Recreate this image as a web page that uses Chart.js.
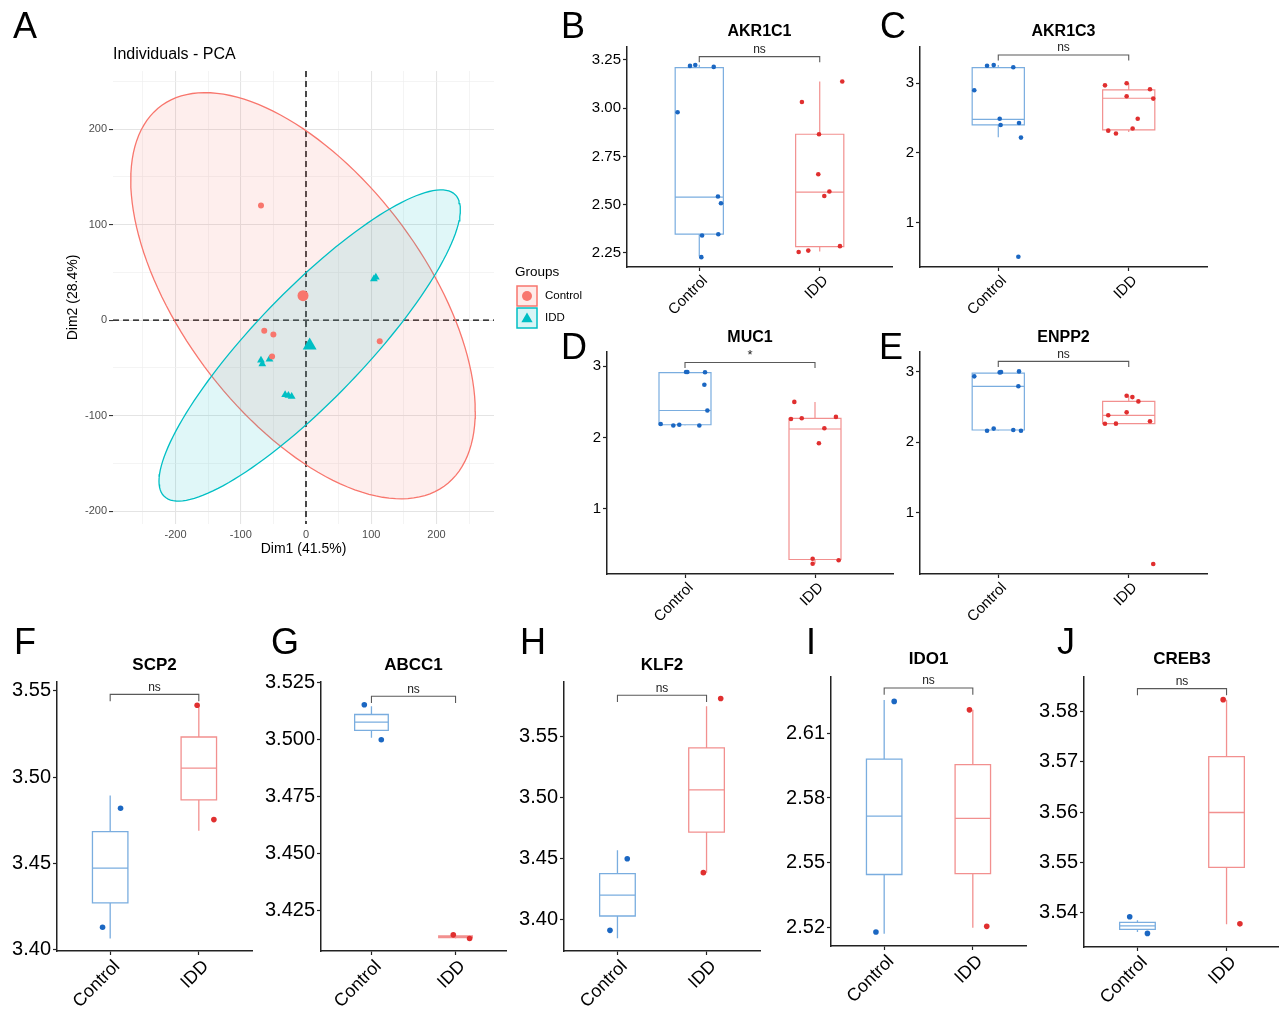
<!DOCTYPE html>
<html>
<head>
<meta charset="utf-8">
<script src="https://cdn.jsdelivr.net/npm/chart.js@4.4.1/dist/chart.umd.min.js"></script>
<style>
  html, body { margin: 0; background: #fff; }
  #fig { position: relative; width: 1279px; height: 1009px; overflow: hidden; font-family: "Liberation Sans", Arial, sans-serif; }
  #fig canvas { position: absolute; }
  .tag { position: absolute; font-size: 36px; line-height: 1; color: #000; }
</style>
</head>
<body>
<div id="fig"></div>
<script>
const groups = ['Control', 'IDD'];

// ---- panel A: PCA individuals ----
const pcaControlX = [-69, -64, -50, -52, 113];
const pcaControlY = [120, -11, -15, -38, -22];
const pcaIddX = [107, 104, -69, -67, -56, -32, -27, -22];
const pcaIddY = [45, 43, -42, -46, -41, -78, -79, -80];
const pcaCentroidX = [-4.6, 5.6];
const pcaCentroidY = [25.6, -26.5];
// conjugate semi-axes of the concentration ellipses, data units
const ellipseControlAxes = [[264, -121], [0, 175]];
const ellipseIddAxes = [[223, 158], [-60, 40]];
const pcaTicksX = [-250, -200, -150, -100, -50, 0, 50, 100, 150, 200, 250];
const pcaTicksY = [-200, -150, -100, -50, 0, 50, 100, 150, 200, 250];

// ---- boxplot panels: values, jitter offsets, [lower, q1, median, q3, upper] ----
const akr1c1Control = [3.219, 3.224, 3.214, 2.979, 2.542, 2.507, 2.340, 2.347, 2.228];
const akr1c1ControlJit = [-0.077, -0.033, 0.12, -0.18, 0.155, 0.18, 0.023, 0.158, 0.017];
const akr1c1Idd = [3.032, 3.138, 2.865, 2.658, 2.568, 2.545, 2.255, 2.262, 2.285];
const akr1c1IddJit = [-0.148, 0.187, -0.006, -0.012, 0.08, 0.038, -0.175, -0.095, 0.168];
const akr1c1Box = [[2.231, 2.347, 2.539, 3.21, 3.225], [2.257, 2.283, 2.565, 2.865, 3.138]];
const akr1c1Ticks = [2.25, 2.5, 2.75, 3.0, 3.25];

const akr1c3Control = [3.25, 3.26, 3.23, 2.90, 2.49, 2.40, 2.43, 2.22, 0.51];
const akr1c3ControlJit = [-0.086, -0.035, 0.115, -0.184, 0.011, 0.018, 0.159, 0.174, 0.154];
const akr1c3Idd = [2.97, 3.0, 2.914, 2.813, 2.78, 2.49, 2.35, 2.32, 2.28];
const akr1c3IddJit = [-0.182, -0.016, 0.163, -0.016, 0.188, 0.069, 0.03, -0.157, -0.098];
const akr1c3Box = [[2.225, 2.402, 2.483, 3.224, 3.26], [2.30, 2.33, 2.785, 2.904, 3.0]];
const akr1c3Ticks = [1, 2, 3];

const muc1Control = [2.92, 2.92, 2.915, 2.74, 2.38, 2.19, 2.17, 2.18, 2.17];
const muc1ControlJit = [0.008, 0.018, 0.154, 0.149, 0.172, -0.187, -0.09, -0.044, 0.11];
const muc1Idd = [2.50, 2.26, 2.27, 2.29, 2.13, 1.92, 0.30, 0.23, 0.28];
const muc1IddJit = [-0.159, -0.185, -0.102, 0.161, 0.072, 0.03, -0.018, -0.018, 0.182];
const muc1Box = [[2.17, 2.18, 2.38, 2.912, 2.92], [0.23, 0.29, 2.12, 2.27, 2.50]];
const muc1Ticks = [1, 2, 3];

const enpp2Control = [2.93, 2.986, 2.99, 3.0, 2.79, 2.16, 2.19, 2.17, 2.16];
const enpp2ControlJit = [-0.184, 0.011, 0.021, 0.159, 0.154, -0.086, -0.035, 0.115, 0.174];
const enpp2Idd = [2.655, 2.636, 2.575, 2.42, 2.38, 2.258, 2.26, 2.295, 0.272];
const enpp2IddJit = [-0.016, 0.028, 0.074, -0.016, -0.157, -0.182, -0.098, 0.163, 0.188];
const enpp2Box = [[2.16, 2.17, 2.787, 2.977, 3.0], [2.258, 2.26, 2.376, 2.575, 2.655]];
const enpp2Ticks = [1, 2, 3];

const scp2Control = [3.482, 3.413];
const scp2ControlJit = [0.117, -0.086];
const scp2Idd = [3.5417, 3.4754];
const scp2IddJit = [-0.019, 0.17];
const scp2Box = [[3.4064, 3.4271, 3.4473, 3.4684, 3.4894], [3.4690, 3.4868, 3.5052, 3.5233, 3.5413]];
const scp2Ticks = [3.40, 3.45, 3.50, 3.55];

const abcc1Control = [3.5154, 3.5000];
const abcc1ControlJit = [-0.085, 0.117];
const abcc1Idd = [3.4141, 3.4125];
const abcc1IddJit = [-0.027, 0.167];
const abcc1Box = [[3.5009, 3.5041, 3.5077, 3.5111, 3.5147], [3.4125, 3.4129, 3.4133, 3.4137, 3.4141]];
const abcc1Ticks = [3.425, 3.450, 3.475, 3.500, 3.525];

const klf2Control = [3.4497, 3.3907];
const klf2ControlJit = [0.11, -0.084];
const klf2Idd = [3.5816, 3.4382];
const klf2IddJit = [0.159, -0.036];
const klf2Box = [[3.3841, 3.4025, 3.4197, 3.4374, 3.4566], [3.4382, 3.4716, 3.5063, 3.541, 3.5753]];
const klf2Ticks = [3.40, 3.45, 3.50, 3.55];

const ido1Control = [2.6247, 2.518];
const ido1ControlJit = [0.113, -0.093];
const ido1Idd = [2.6208, 2.5206];
const ido1IddJit = [-0.038, 0.157];
const ido1Box = [[2.5172, 2.5446, 2.5716, 2.598, 2.6254], [2.52, 2.545, 2.5706, 2.5954, 2.6208]];
const ido1Ticks = [2.52, 2.55, 2.58, 2.61];

const creb3Control = [3.5392, 3.5359];
const creb3ControlJit = [-0.087, 0.112];
const creb3Idd = [3.5823, 3.5378];
const creb3IddJit = [-0.038, 0.15];
const creb3Box = [[3.5362, 3.5367, 3.5374, 3.5381, 3.5385], [3.5377, 3.549, 3.5599, 3.571, 3.5823]];
const creb3Ticks = [3.54, 3.55, 3.56, 3.57, 3.58];

// significance label and bracket height
const sigLabels = ['ns', 'ns', '*', 'ns', 'ns', 'ns', 'ns', 'ns', 'ns'];
const sigHeights = [3.267, 3.406, 3.052, 3.142, 3.548, 3.5191, 3.5843, 2.6309, 3.5845];

const RED = '#F8766D', TEAL = '#00BFC4';
const BOX_COL = ['#7aaddf', '#f2908f'];
const PT_COL = ['#1b67c2', '#e02f2f'];
const FONT = '"Liberation Sans", Arial, sans-serif';
Chart.defaults.font.family = FONT;
Chart.defaults.color = '#000';

const fig = document.getElementById('fig');

function addCanvas(left, top, w, h) {
  const c = document.createElement('canvas');
  c.width = w; c.height = h;
  c.style.left = left + 'px'; c.style.top = top + 'px';
  c.style.width = w + 'px'; c.style.height = h + 'px';
  fig.appendChild(c);
  return c;
}

function addTag(letter, left, top) {
  const d = document.createElement('div');
  d.className = 'tag';
  d.textContent = letter;
  d.style.left = left + 'px'; d.style.top = top + 'px';
  fig.appendChild(d);
}

// ---------------- panel A ----------------
function ellipsePoints(cx, cy, axes) {
  const pts = [];
  for (let k = 0; k <= 144; k++) {
    const t = k / 144 * 2 * Math.PI;
    pts.push({
      x: cx + axes[0][0] * Math.cos(t) + axes[1][0] * Math.sin(t),
      y: cy + axes[0][1] * Math.cos(t) + axes[1][1] * Math.sin(t)
    });
  }
  return pts;
}

const zeroLines = {
  id: 'zeroLines',
  beforeDatasetsDraw(chart) {
    const { ctx, chartArea: a, scales: { x, y } } = chart;
    const x0 = x.getPixelForValue(0), y0 = y.getPixelForValue(0);
    ctx.save();
    ctx.setLineDash([6, 4]);
    ctx.strokeStyle = '#000';
    ctx.lineWidth = 1.4;
    ctx.beginPath();
    ctx.moveTo(x0, a.top); ctx.lineTo(x0, a.bottom);
    ctx.moveTo(a.left, y0); ctx.lineTo(a.right, y0);
    ctx.stroke();
    ctx.restore();
  }
};

const groupLegend = {
  id: 'groupLegend',
  afterDraw(chart) {
    const ctx = chart.ctx;
    const fills = ['rgba(248,118,109,0.15)', 'rgba(0,191,196,0.15)'];
    const lines = [RED, TEAL];
    const styles = ['circle', 'triangle'];
    ctx.save();
    ctx.textBaseline = 'middle';
    ctx.fillStyle = '#000';
    ctx.font = '13.5px ' + FONT;
    ctx.fillText('Groups', 515, 272);
    groups.forEach((g, i) => {
      const cy = 296 + i * 22;
      ctx.fillStyle = fills[i];
      ctx.fillRect(517, cy - 10, 20, 20);
      ctx.strokeStyle = lines[i];
      ctx.lineWidth = 1.5;
      ctx.strokeRect(517, cy - 10, 20, 20);
      ctx.fillStyle = lines[i];
      ctx.strokeStyle = lines[i];
      Chart.helpers.drawPoint(ctx, { pointStyle: styles[i], radius: i ? 6.5 : 5, borderWidth: 0, rotation: 0 }, 527, cy + (i ? 1 : 0));
      ctx.fillStyle = '#000';
      ctx.font = '11.5px ' + FONT;
      ctx.fillText(g, 545, cy);
    });
    ctx.restore();
  }
};

const pcaCanvas = addCanvas(0, 0, 600, 575);
new Chart(pcaCanvas, {
  type: 'scatter',
  data: {
    datasets: [
      {
        label: 'Control',
        data: pcaControlX.map((x, i) => ({ x, y: pcaControlY[i] })),
        pointStyle: 'circle', pointRadius: 3, backgroundColor: RED, borderWidth: 0, order: 0
      },
      {
        label: 'IDD',
        data: pcaIddX.map((x, i) => ({ x, y: pcaIddY[i] })),
        pointStyle: 'triangle', pointRadius: 4.5, backgroundColor: TEAL, borderColor: TEAL, borderWidth: 0, order: 0
      },
      {
        label: 'Control mean',
        data: [{ x: pcaCentroidX[0], y: pcaCentroidY[0] }],
        pointStyle: 'circle', pointRadius: 5.5, backgroundColor: RED, borderWidth: 0, order: 0
      },
      {
        label: 'IDD mean',
        data: [{ x: pcaCentroidX[1], y: pcaCentroidY[1] }],
        pointStyle: 'triangle', pointRadius: 8, backgroundColor: TEAL, borderWidth: 0, order: 0
      },
      {
        type: 'line', label: 'Control ellipse',
        data: ellipsePoints(pcaCentroidX[0], pcaCentroidY[0], ellipseControlAxes),
        borderColor: RED, borderWidth: 1.3, backgroundColor: 'rgba(248,118,109,0.12)',
        fill: 'shape', pointRadius: 0, tension: 0, order: 2
      },
      {
        type: 'line', label: 'IDD ellipse',
        data: ellipsePoints(pcaCentroidX[1], pcaCentroidY[1], ellipseIddAxes),
        borderColor: TEAL, borderWidth: 1.3, backgroundColor: 'rgba(0,191,196,0.12)',
        fill: 'shape', pointRadius: 0, tension: 0, order: 1
      }
    ]
  },
  options: {
    responsive: false,
    animation: false,
    layout: { padding: { left: 0, top: 0, right: 106, bottom: 0 } },
    plugins: {
      legend: { display: false },
      tooltip: { enabled: false },
      title: {
        display: true, text: 'Individuals - PCA', align: 'start', fullSize: false,
        font: { size: 16, weight: 'normal' }, color: '#000',
        padding: { top: 45.4, bottom: 6.4 }
      }
    },
    scales: {
      x: {
        type: 'linear', min: -295.8, max: 288.1,
        afterBuildTicks: a => { a.ticks = pcaTicksX.map(v => ({ value: v })); },
        afterFit: s => { s.height = 51; },
        ticks: { callback: v => (v % 100 === 0 ? String(v) : ''), font: { size: 11 }, color: '#4d4d4d', padding: 1, autoSkip: false, maxRotation: 0 },
        grid: {
          color: c => (c.tick && c.tick.value % 100 === 0 ? '#e4e4e4' : '#efefef'),
          lineWidth: c => (c.tick && c.tick.value % 100 === 0 ? 1.1 : 0.7),
          tickColor: 'rgba(0,0,0,0)', tickLength: 3
        },
        border: { display: false },
        title: { display: true, text: 'Dim1 (41.5%)', font: { size: 14 }, color: '#000', padding: { top: 0, bottom: 17.6 } }
      },
      y: {
        type: 'linear', min: -213.5, max: 261,
        afterBuildTicks: a => { a.ticks = pcaTicksY.map(v => ({ value: v })); },
        afterFit: s => { s.width = 113; },
        ticks: { callback: v => (v % 100 === 0 ? String(v) : ''), font: { size: 11 }, color: '#4d4d4d', padding: 2, autoSkip: false },
        grid: {
          color: c => (c.tick && c.tick.value % 100 === 0 ? '#e4e4e4' : '#efefef'),
          lineWidth: c => (c.tick && c.tick.value % 100 === 0 ? 1.1 : 0.7),
          tickColor: c => (c.tick && c.tick.value % 100 === 0 ? '#333' : 'rgba(0,0,0,0)'), tickLength: 4
        },
        border: { display: false },
        title: { display: true, text: 'Dim2 (28.4%)', font: { size: 14 }, color: '#000', padding: { top: 64.6, bottom: 0 } }
      }
    }
  },
  plugins: [zeroLines, groupLegend]
});
addTag('A', 13, 8);

// ---------------- boxplot panels ----------------
const panels = [
  { tag: 'B', title: 'AKR1C1', c: akr1c1Control, cj: akr1c1ControlJit, d: akr1c1Idd, dj: akr1c1IddJit, box: akr1c1Box, ticks: akr1c1Ticks, dec: 2, range: [2.177, 3.317], rect: [627, 47, 892, 267], titleY: 32, tagPos: [561, 8] },
  { tag: 'C', title: 'AKR1C3', c: akr1c3Control, cj: akr1c3ControlJit, d: akr1c3Idd, dj: akr1c3IddJit, box: akr1c3Box, ticks: akr1c3Ticks, dec: 0, range: [0.364, 3.52], rect: [920, 47, 1207, 267], titleY: 32, tagPos: [880, 8] },
  { tag: 'D', title: 'MUC1', c: muc1Control, cj: muc1ControlJit, d: muc1Idd, dj: muc1IddJit, box: muc1Box, ticks: muc1Ticks, dec: 0, range: [0.087, 3.2], rect: [607, 352, 893, 574], titleY: 338, tagPos: [561, 329] },
  { tag: 'E', title: 'ENPP2', c: enpp2Control, cj: enpp2ControlJit, d: enpp2Idd, dj: enpp2IddJit, box: enpp2Box, ticks: enpp2Ticks, dec: 0, range: [0.13, 3.275], rect: [920, 352, 1207, 574], titleY: 338, tagPos: [879, 329] },
  { tag: 'F', title: 'SCP2', c: scp2Control, cj: scp2ControlJit, d: scp2Idd, dj: scp2IddJit, box: scp2Box, ticks: scp2Ticks, dec: 2, range: [3.3992, 3.5552], rect: [57, 682, 252, 951], titleY: 665, tagPos: [14, 624], big: true },
  { tag: 'G', title: 'ABCC1', c: abcc1Control, cj: abcc1ControlJit, d: abcc1Idd, dj: abcc1IddJit, box: abcc1Box, ticks: abcc1Ticks, dec: 3, range: [3.407, 3.5254], rect: [321, 682, 506, 951], titleY: 665, tagPos: [271, 624], big: true },
  { tag: 'H', title: 'KLF2', c: klf2Control, cj: klf2ControlJit, d: klf2Idd, dj: klf2IddJit, box: klf2Box, ticks: klf2Ticks, dec: 2, range: [3.3737, 3.5952], rect: [564, 682, 760, 951], titleY: 665, tagPos: [520, 624], big: true },
  { tag: 'I', title: 'IDO1', c: ido1Control, cj: ido1ControlJit, d: ido1Idd, dj: ido1IddJit, box: ido1Box, ticks: ido1Ticks, dec: 2, range: [2.5115, 2.636], rect: [831, 677, 1026, 946], titleY: 659, tagPos: [806, 624], big: true },
  { tag: 'J', title: 'CREB3', c: creb3Control, cj: creb3ControlJit, d: creb3Idd, dj: creb3IddJit, box: creb3Box, ticks: creb3Ticks, dec: 2, range: [3.5332, 3.5868], rect: [1084, 677, 1280, 947], titleY: 659, tagPos: [1057, 624], big: true }
];

function boxPlugin(p, i) {
  return {
    id: 'boxes',
    beforeDatasetsDraw(chart) {
      const { ctx, chartArea: a, scales: { x, y } } = chart;
      ctx.save();
      ctx.lineWidth = p.big ? 1.3 : 1.2;
      p.box.forEach((s, g) => {
        const xc = x.getPixelForValue(g + 1);
        const xl = x.getPixelForValue(g + 1 - 0.2), xr = x.getPixelForValue(g + 1 + 0.2);
        const [lo, q1, md, q3, hi] = s.map(v => y.getPixelForValue(v));
        ctx.strokeStyle = BOX_COL[g];
        ctx.beginPath();
        ctx.moveTo(xc, lo); ctx.lineTo(xc, q1);
        ctx.moveTo(xc, q3); ctx.lineTo(xc, hi);
        ctx.rect(xl, q3, xr - xl, q1 - q3);
        ctx.moveTo(xl, md); ctx.lineTo(xr, md);
        ctx.stroke();
      });
      // comparison bracket
      const by = y.getPixelForValue(sigHeights[i]);
      const tip = (a.bottom - a.top) * 0.025;
      const x1 = x.getPixelForValue(1), x2 = x.getPixelForValue(2);
      ctx.strokeStyle = '#595959';
      ctx.lineWidth = 1.1;
      ctx.beginPath();
      ctx.moveTo(x1, by + tip); ctx.lineTo(x1, by); ctx.lineTo(x2, by); ctx.lineTo(x2, by + tip);
      ctx.stroke();
      ctx.fillStyle = '#222';
      ctx.font = (sigLabels[i] === '*' ? '13px ' : '12px ') + FONT;
      ctx.textAlign = 'center';
      ctx.textBaseline = 'bottom';
      ctx.fillText(sigLabels[i], x.getPixelForValue(1.5), by - 1);
      ctx.restore();
    }
  };
}

panels.forEach((p, i) => {
  const [L, T, R, B] = p.rect;
  const yW = p.big ? 56 : 60;
  const xH = p.big ? 60 : 62;
  const head = 45, padR = 6;
  const titleSize = p.big ? 17 : 16;
  const lh = titleSize * 1.2;
  const pt = p.titleY - (T - head) - lh / 2;
  const pb = head - pt - lh;
  const cv = addCanvas(L - yW, T - head, R + padR - (L - yW), B + xH - (T - head));
  const axisStyle = { display: true, color: '#222', width: 1.5 };
  const gridStyle = { display: true, drawOnChartArea: false, tickLength: 4, tickColor: '#222', tickWidth: 1.2 };
  new Chart(cv, {
    type: 'scatter',
    data: {
      datasets: [
        {
          label: groups[0],
          data: p.c.map((v, k) => ({ x: 1 + p.cj[k], y: v })),
          backgroundColor: PT_COL[0], borderWidth: 0, pointRadius: p.big ? 2.8 : 2.3
        },
        {
          label: groups[1],
          data: p.d.map((v, k) => ({ x: 2 + p.dj[k], y: v })),
          backgroundColor: PT_COL[1], borderWidth: 0, pointRadius: p.big ? 2.8 : 2.3
        }
      ]
    },
    options: {
      responsive: false,
      animation: false,
      layout: { padding: { left: 0, top: 0, right: padR, bottom: 0 } },
      plugins: {
        legend: { display: false },
        tooltip: { enabled: false },
        title: {
          display: true, text: p.title, color: '#000', fullSize: false,
          font: { size: titleSize, weight: 'bold', lineHeight: 1.2 },
          padding: { top: pt, bottom: pb }
        }
      },
      scales: {
        x: {
          type: 'linear', min: 0.4, max: 2.6,
          afterBuildTicks: a => { a.ticks = groups.map((g, k) => ({ value: k + 1 })); },
          afterFit: s => { s.height = xH; },
          ticks: { callback: v => groups[v - 1], minRotation: 45, maxRotation: 45, autoSkip: false, font: { size: p.big ? 18 : 15 }, color: '#000', padding: 1, labelOffset: p.big ? 7 : 6 },
          grid: gridStyle,
          border: axisStyle
        },
        y: {
          type: 'linear', min: p.range[0], max: p.range[1],
          afterBuildTicks: a => { a.ticks = p.ticks.map(v => ({ value: v })); },
          afterFit: s => { s.width = yW; },
          ticks: { callback: v => v.toFixed(p.dec), font: { size: p.big ? 20 : 15 }, color: '#000', padding: 2, autoSkip: false },
          grid: gridStyle,
          border: axisStyle
        }
      }
    },
    plugins: [boxPlugin(p, i)]
  });
  addTag(p.tag, p.tagPos[0], p.tagPos[1]);
});
</script>
</body>
</html>
